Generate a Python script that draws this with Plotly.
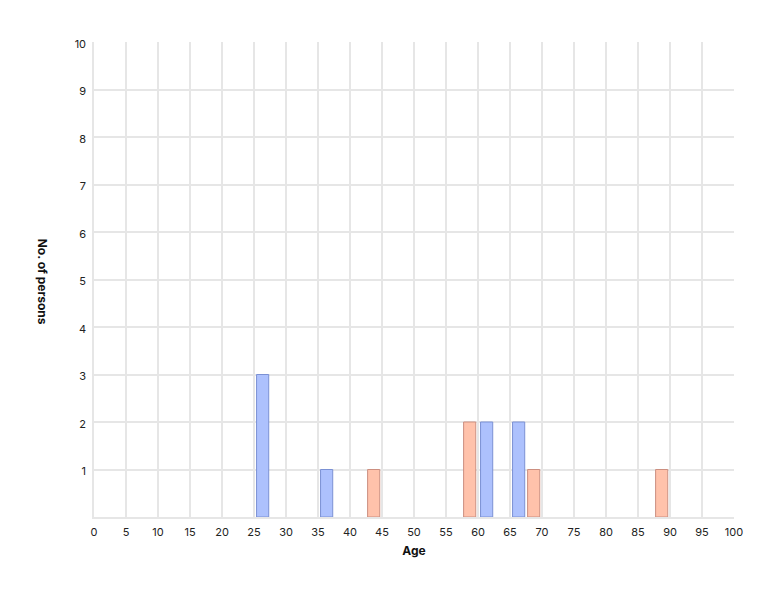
import plotly.graph_objects as go

# age bins (start of 5-year bin) and counts per group
blue_bins = [25, 35, 60, 65]
blue_counts = [3, 1, 2, 2]
salmon_bins = [40, 55, 65, 85]
salmon_counts = [1, 2, 1, 1]

x_ticks = list(range(0, 101, 5))
y_ticks = list(range(1, 11))

GRID = '#e6e6e6'
FONT = 'Inter, Liberation Sans, sans-serif'

fig = go.Figure()
fig.add_trace(go.Bar(
    x=blue_bins, y=blue_counts,
    width=1.9, offset=0.4,
    marker=dict(color='#adc1fd', line=dict(color='#7b91d4', width=1)),
    name='A',
))
fig.add_trace(go.Bar(
    x=salmon_bins, y=salmon_counts,
    width=1.9, offset=2.75,
    marker=dict(color='#ffc2ab', line=dict(color='#cc8f80', width=1)),
    name='B',
))

# page body adds 8px, so margins are shifted to land the plot where the reference has it
fig.update_layout(
    width=774, height=594,
    barmode='overlay',
    showlegend=False,
    plot_bgcolor='white', paper_bgcolor='white',
    margin=dict(l=86, r=48, t=34, b=85),
    font=dict(family=FONT, size=11, color='#222'),
    annotations=[dict(
        text='<b>No. of persons</b>', textangle=90,
        xref='paper', yref='paper', x=-0.081, y=0.495,
        xanchor='center', yanchor='middle',
        showarrow=False, font=dict(size=12, color='#111'),
    )],
)
fig.update_xaxes(
    range=[0, 100], tickvals=x_ticks,
    showgrid=True, gridcolor=GRID, gridwidth=1.5,
    showline=True, linecolor=GRID, linewidth=1.5, mirror=False,
    zeroline=False, ticks='', ticklabelstandoff=4,
    title=dict(text='<b>Age</b>', font=dict(size=12, color='#111'), standoff=9),
)
fig.update_yaxes(
    range=[0, 10], tickvals=y_ticks,
    showgrid=True, gridcolor=GRID, gridwidth=1.5,
    showline=True, linecolor=GRID, linewidth=1.5,
    zeroline=False, ticks='', ticklabelshift=2, ticklabelstandoff=4,
)

fig.write_html("out.html")
